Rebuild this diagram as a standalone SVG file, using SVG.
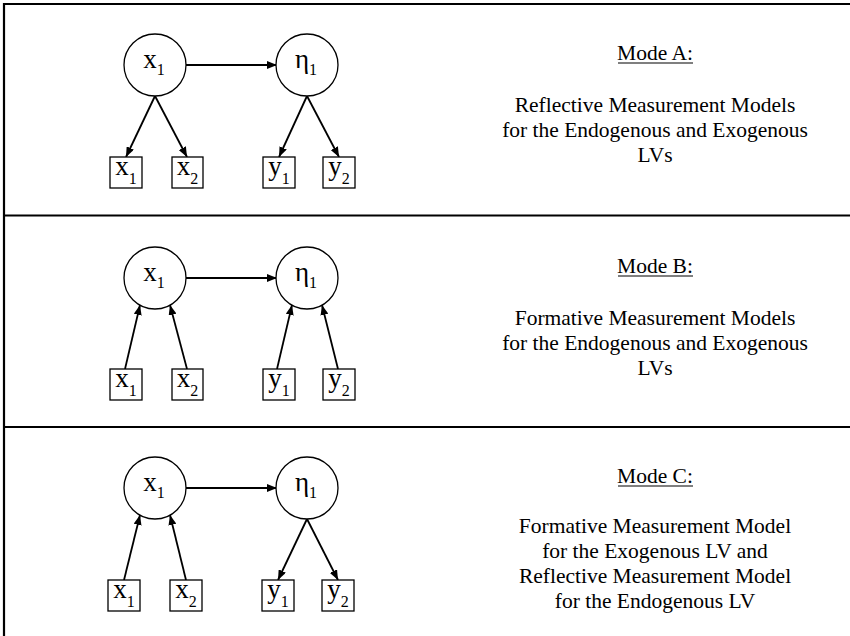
<svg xmlns="http://www.w3.org/2000/svg" width="850" height="636" viewBox="0 0 850 636">
  <style>
    .frame { stroke: #000; stroke-width: 2.2; fill: none; }
    .lv { fill: #fff; stroke: #000; stroke-width: 1.3; }
    .mv { fill: #fff; stroke: #000; stroke-width: 1.3; }
    .edge { stroke: #000; stroke-width: 1.8; fill: none; marker-end: url(#head); }
    .lbl { font-size: 27px; fill: #000; text-anchor: middle; }
    .sub { font-size: 16px; }
    .cap { font-size: 21.5px; fill: #000; text-anchor: middle; }
    .ul { stroke: #000; stroke-width: 1.2; }
  </style>
  <defs>
    <marker id="head" markerUnits="userSpaceOnUse" markerWidth="10" markerHeight="8" refX="10" refY="4" orient="auto">
      <path d="M0,0 L10,4 L0,8 z" fill="#000"/>
    </marker>
  </defs>
  <rect width="850" height="636" fill="#fff"/>

  <!-- panel frame -->
  <g id="frame" class="frame">
    <line x1="4" y1="4" x2="850" y2="4"/>
    <line x1="4" y1="3" x2="4" y2="636"/>
    <line x1="4" y1="215.5" x2="850" y2="215.5"/>
    <line x1="4" y1="427" x2="850" y2="427"/>
  </g>

  <!-- connectors -->
  <g id="connectors">
    <!-- Mode A: reflective -->
    <line class="edge" x1="186" y1="65" x2="277" y2="65"/>
    <line class="edge" x1="155" y1="96" x2="126" y2="157"/>
    <line class="edge" x1="155" y1="96" x2="187" y2="157"/>
    <line class="edge" x1="307" y1="96" x2="279" y2="157"/>
    <line class="edge" x1="307" y1="96" x2="339" y2="157"/>
    <!-- Mode B: formative -->
    <line class="edge" x1="186" y1="278" x2="277" y2="278"/>
    <line class="edge" x1="125" y1="369" x2="140" y2="305"/>
    <line class="edge" x1="187" y1="369" x2="170" y2="305"/>
    <line class="edge" x1="277" y1="369" x2="292" y2="305"/>
    <line class="edge" x1="338" y1="369" x2="322" y2="305"/>
    <!-- Mode C: mixed -->
    <line class="edge" x1="186" y1="488" x2="277" y2="488"/>
    <line class="edge" x1="124" y1="580" x2="140" y2="515"/>
    <line class="edge" x1="186" y1="580" x2="170" y2="515"/>
    <line class="edge" x1="307" y1="519" x2="278" y2="580"/>
    <line class="edge" x1="307" y1="519" x2="338" y2="580"/>
  </g>

  <g font-family="Liberation Serif, Times New Roman, serif">
  <!-- Mode A nodes -->
  <g id="a-xi"><circle class="lv" cx="155" cy="65" r="31"/><text class="lbl" x="154" y="68">x<tspan class="sub" dy="7">1</tspan></text></g>
  <g id="a-eta"><circle class="lv" cx="307" cy="65" r="31"/><text class="lbl" x="306" y="68">η<tspan class="sub" dy="7">1</tspan></text></g>
  <g id="a-x1"><rect class="mv" x="110" y="157" width="32" height="31"/><text class="lbl" x="126" y="175">x<tspan class="sub" dy="9">1</tspan></text></g>
  <g id="a-x2"><rect class="mv" x="172" y="157" width="31" height="31"/><text class="lbl" x="187.5" y="175">x<tspan class="sub" dy="9">2</tspan></text></g>
  <g id="a-y1"><rect class="mv" x="263" y="157" width="32" height="31"/><text class="lbl" x="279" y="175">y<tspan class="sub" dy="9">1</tspan></text></g>
  <g id="a-y2"><rect class="mv" x="323" y="157" width="32" height="31"/><text class="lbl" x="339" y="175">y<tspan class="sub" dy="9">2</tspan></text></g>
  <g id="a-caption">
    <text class="cap" x="655" y="60">Mode A:</text>
    <line class="ul" x1="618" y1="63" x2="693" y2="63"/>
    <text class="cap" x="655" y="112">Reflective Measurement Models</text>
    <text class="cap" x="655" y="137">for the Endogenous and Exogenous</text>
    <text class="cap" x="655" y="162">LVs</text>
  </g>

  <!-- Mode B nodes -->
  <g id="b-xi"><circle class="lv" cx="155" cy="278" r="31"/><text class="lbl" x="154" y="281">x<tspan class="sub" dy="7">1</tspan></text></g>
  <g id="b-eta"><circle class="lv" cx="307" cy="278" r="31"/><text class="lbl" x="306" y="281">η<tspan class="sub" dy="7">1</tspan></text></g>
  <g id="b-x1"><rect class="mv" x="110" y="369" width="32" height="31"/><text class="lbl" x="126" y="387">x<tspan class="sub" dy="9">1</tspan></text></g>
  <g id="b-x2"><rect class="mv" x="172" y="369" width="31" height="31"/><text class="lbl" x="187.5" y="387">x<tspan class="sub" dy="9">2</tspan></text></g>
  <g id="b-y1"><rect class="mv" x="263" y="369" width="32" height="31"/><text class="lbl" x="279" y="387">y<tspan class="sub" dy="9">1</tspan></text></g>
  <g id="b-y2"><rect class="mv" x="323" y="369" width="32" height="31"/><text class="lbl" x="339" y="387">y<tspan class="sub" dy="9">2</tspan></text></g>
  <g id="b-caption">
    <text class="cap" x="655" y="273">Mode B:</text>
    <line class="ul" x1="618" y1="276" x2="693" y2="276"/>
    <text class="cap" x="655" y="325">Formative Measurement Models</text>
    <text class="cap" x="655" y="350">for the Endogenous and Exogenous</text>
    <text class="cap" x="655" y="375">LVs</text>
  </g>

  <!-- Mode C nodes -->
  <g id="c-xi"><circle class="lv" cx="155" cy="488" r="31"/><text class="lbl" x="154" y="491">x<tspan class="sub" dy="7">1</tspan></text></g>
  <g id="c-eta"><circle class="lv" cx="307" cy="488" r="31"/><text class="lbl" x="306" y="491">η<tspan class="sub" dy="7">1</tspan></text></g>
  <g id="c-x1"><rect class="mv" x="108" y="580" width="32" height="31"/><text class="lbl" x="124" y="598">x<tspan class="sub" dy="9">1</tspan></text></g>
  <g id="c-x2"><rect class="mv" x="170" y="580" width="32" height="31"/><text class="lbl" x="186" y="598">x<tspan class="sub" dy="9">2</tspan></text></g>
  <g id="c-y1"><rect class="mv" x="262" y="580" width="32" height="31"/><text class="lbl" x="278" y="598">y<tspan class="sub" dy="9">1</tspan></text></g>
  <g id="c-y2"><rect class="mv" x="322" y="580" width="32" height="31"/><text class="lbl" x="338" y="598">y<tspan class="sub" dy="9">2</tspan></text></g>
  <g id="c-caption">
    <text class="cap" x="655" y="483">Mode C:</text>
    <line class="ul" x1="618" y1="486" x2="693" y2="486"/>
    <text class="cap" x="655" y="533">Formative Measurement Model</text>
    <text class="cap" x="655" y="558">for the Exogenous LV and</text>
    <text class="cap" x="655" y="583">Reflective Measurement Model</text>
    <text class="cap" x="655" y="608">for the Endogenous LV</text>
  </g>
  </g>
</svg>
